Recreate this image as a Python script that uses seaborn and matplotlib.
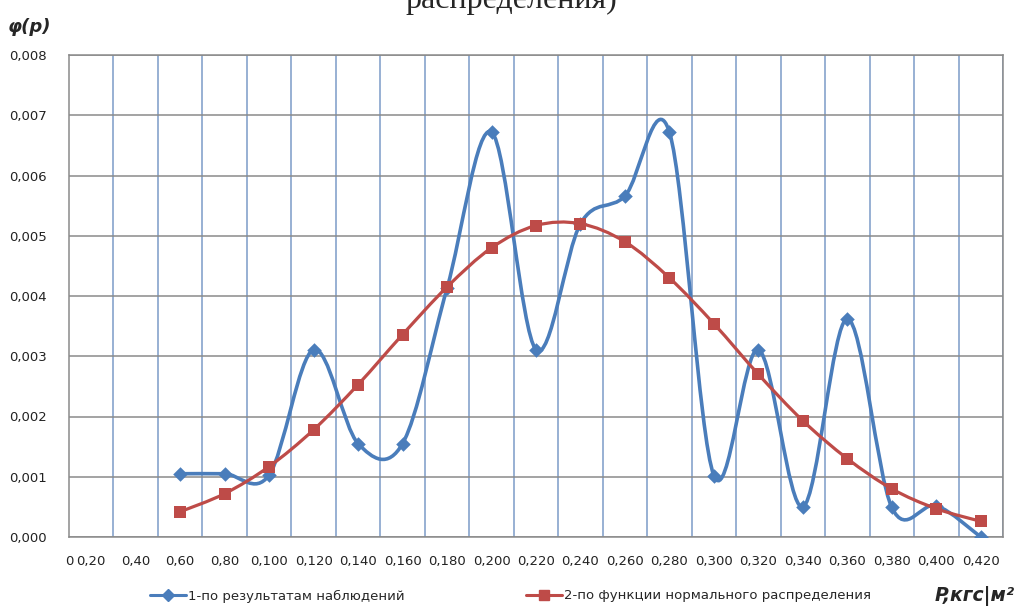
import numpy as np
import pandas as pd
import matplotlib
matplotlib.use('Agg')
import matplotlib.pyplot as plt
from matplotlib.path import Path
from matplotlib.patches import PathPatch
from matplotlib.lines import Line2D
import seaborn as sns

# Data
categories = ['0,20', '0,40', '0,60', '0,80', '0,100', '0,120', '0,140', '0,160',
              '0,180', '0,200', '0,220', '0,240', '0,260', '0,280', '0,300',
              '0,320', '0,340', '0,360', '0,380', '0,400', '0,420']
point_cats = categories[2:]
observed = [0.00105, 0.00105, 0.00103, 0.00311, 0.00155, 0.00155, 0.00413,
            0.00672, 0.00311, 0.00520, 0.00566, 0.00672, 0.00102, 0.00311,
            0.00050, 0.00362, 0.00049, 0.00052, 0.0]
normal = [0.00042, 0.00072, 0.00117, 0.00178, 0.00253, 0.00336, 0.00415,
          0.00480, 0.00517, 0.00520, 0.00490, 0.00430, 0.00354, 0.00270,
          0.00193, 0.00130, 0.00080, 0.00047, 0.00026]
legend_labels = ['1-по результатам наблюдений', '2-по функции нормального распределения']

blue = '#4a7dbb'
red = '#be4b48'

sns.set_style('white')
plt.rcParams['font.family'] = ['DejaVu Sans']

df = pd.DataFrame({'cat': point_cats, 'observed': observed, 'normal': normal})
df['pos'] = [categories.index(c) for c in df['cat']]

fig = plt.figure(figsize=(10.19, 6.07), dpi=100)
ax = fig.add_axes([69/1019, 1 - 537/607, (1003 - 69)/1019, (537 - 55)/607])


def smooth_path(xs, ys):
    # excel-like smoothed line: catmull-rom turned into cubic bezier pieces
    pts = np.column_stack([xs, ys]).astype(float)
    n = len(pts)
    verts = [pts[0]]
    codes = [Path.MOVETO]
    for i in range(n - 1):
        p0 = pts[max(i - 1, 0)]
        p1 = pts[i]
        p2 = pts[i + 1]
        p3 = pts[min(i + 2, n - 1)]
        verts += [p1 + (p2 - p0) / 6, p2 - (p3 - p1) / 6, p2]
        codes += [Path.CURVE4] * 3
    return Path(verts, codes)


ax.add_patch(PathPatch(smooth_path(df['pos'], df['observed']), fill=False,
                       edgecolor=blue, lw=2.6, capstyle='round', zorder=3))
sns.scatterplot(data=df, x='pos', y='observed', marker='D', s=55, color=blue,
                edgecolor=blue, linewidth=0, zorder=4, ax=ax, legend=False)
ax.add_patch(PathPatch(smooth_path(df['pos'], df['normal']), fill=False,
                       edgecolor=red, lw=2.3, capstyle='round', zorder=5))
sns.scatterplot(data=df, x='pos', y='normal', marker='s', s=80, color=red,
                edgecolor=red, linewidth=0, zorder=6, ax=ax, legend=False)

ax.set_xlim(-0.5, len(categories) - 0.5)
ax.set_ylim(0, 0.008)
ax.set_xlabel('')
ax.set_ylabel('')

ax.set_xticks([-0.5] + list(range(len(categories))))
ax.set_xticklabels(['0'] + categories)
ax.set_xticks(np.arange(-0.5, len(categories)), minor=True)
yt = np.arange(0, 0.0081, 0.001)
ax.set_yticks(yt)
ax.set_yticklabels([f'{v:.3f}'.replace('.', ',') for v in yt])
ax.tick_params(axis='both', which='both', length=0, labelsize=9.5, labelcolor='#222222')
ax.tick_params(axis='x', pad=13)
ax.tick_params(axis='y', pad=16)

ax.grid(False)
ax.xaxis.grid(True, which='minor', color='#7c9bc8', lw=1.1)
ax.yaxis.grid(True, which='major', color='#8a8a8a', lw=1.1)
ax.set_axisbelow(True)
for s in ax.spines.values():
    s.set_color('#8a8a8a')
    s.set_linewidth(1.1)

# legend below the plot, two separate entries
h1 = Line2D([], [], color=blue, lw=2.2, marker='D', ms=6)
h2 = Line2D([], [], color=red, lw=2.2, marker='s', ms=7.5)
fig.legend(handles=[h1], labels=[legend_labels[0]], loc='center left',
           bbox_to_anchor=(150/1019, 1 - 596/607), frameon=False, borderpad=0,
           borderaxespad=0, handlelength=2.7, handletextpad=0.15, fontsize=9.5)
fig.legend(handles=[h2], labels=[legend_labels[1]], loc='center left',
           bbox_to_anchor=(526/1019, 1 - 596/607), frameon=False, borderpad=0,
           borderaxespad=0, handlelength=2.7, handletextpad=0.15, fontsize=9.5)

fig.text(8/1019, 1 - 27/607, 'φ(p)', fontsize=13, fontweight='bold',
         style='italic', va='center', ha='left')
fig.text(1015/1019, 1 - 596/607, 'P,кгс|м²', fontsize=13.5, fontweight='bold',
         style='italic', va='center', ha='right')
fig.text(405/1019, 1 - 8/607, 'распределения)', fontsize=23,
         family='Liberation Serif', va='baseline', ha='left')

fig.savefig('out.png', dpi=100)
